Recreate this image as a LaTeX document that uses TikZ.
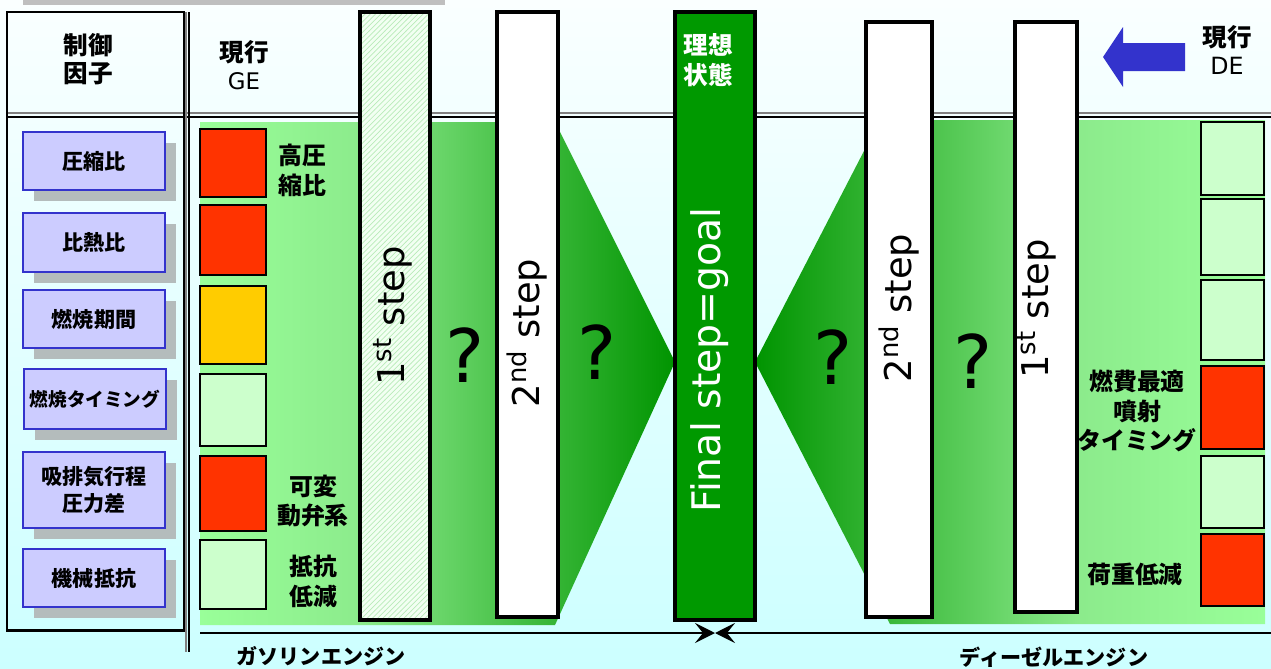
\documentclass[tikz,border=0pt]{standalone}
\usepackage{fontspec}
\setmainfont{DejaVu Sans}
\newfontfamily\jpfont{Noto Sans CJK JP}
\usetikzlibrary{arrows.meta, patterns, shadows}
\definecolor{bgtop}{RGB}{250,255,255}
\definecolor{bgbottom}{RGB}{204,255,255}
\definecolor{hot}{HTML}{FF3300}
\definecolor{warm}{HTML}{FFCC00}
\definecolor{pale}{HTML}{CCFFCC}
\definecolor{lilac}{HTML}{CCCCFF}
\definecolor{lilacedge}{HTML}{3333CC}
\definecolor{shadowgray}{RGB}{180,188,188}
\definecolor{goal}{HTML}{009900}
\definecolor{glight}{RGB}{153,255,153}
\definecolor{gmid}{RGB}{140,235,140}
\definecolor{gdark}{RGB}{0,148,0}
\definecolor{hatch}{RGB}{185,235,185}
\definecolor{hatchbg}{RGB}{242,255,242}
\definecolor{arrowblue}{HTML}{3333CC}
\definecolor{topgray}{HTML}{BFBFBF}
\pgfdeclarehorizontalshading{gasfade}{100bp}{color(0bp)=(glight); color(25bp)=(glight); color(41.8bp)=(gmid); color(75bp)=(gdark); color(100bp)=(gdark)}
\pgfdeclarehorizontalshading{dslfade}{100bp}{color(0bp)=(gdark); color(25bp)=(gdark); color(56.9bp)=(gmid); color(75bp)=(glight); color(100bp)=(glight)}

\begin{document}
\begin{tikzpicture}[
    x=0.2mm, y=-0.2mm,
    jp/.style={font=\jpfont\bfseries\fontsize{13.6}{17}\selectfont, align=center, inner sep=0pt},
    factor/.style={draw=lilacedge, fill=lilac, line width=0.7pt, minimum width=28.4mm, inner sep=0pt, align=center,
        font=\jpfont\bfseries\fontsize{12}{15}\selectfont,
        drop shadow={shadow xshift=2.2mm, shadow yshift=-2.2mm, fill=shadowgray, opacity=1}},
    cell/.style={draw, line width=0.6pt, inner sep=0pt},
    stepbar/.style={draw, line width=2.3pt, inner sep=0pt},
    steptext/.style={rotate=90, font=\fontsize{21}{25}\selectfont, inner sep=0pt},
    query/.style={font=\fontsize{42}{48}\selectfont, inner sep=0pt},
    meet/.style={-{Stealth[length=4mm, width=4mm, inset=1.6mm]}, line width=1.3pt}
]
\useasboundingbox (0,0) rectangle (1271,669);
\shade[top color=bgtop, bottom color=bgbottom] (0,0) rectangle (1271,669);
\fill[topgray] (23,0) rectangle (445,5);

\shade[shading=gasfade] (200,122) -- (555,122) -- (675,362) -- (555,625) -- (200,625) -- cycle;
\shade[shading=dslfade] (755,362) -- (880,120) -- (1265,120) -- (1265,624) -- (890,624) -- cycle;

\draw[gray, line width=0.6pt] (7,113) -- (1271,113);
\draw[line width=1.1pt] (7,117) -- (1271,117);

\node[draw, line width=1.7pt, minimum width=35.4mm, minimum height=123.6mm, inner sep=0pt] (panel) at (95.5,321) {};
\draw[gray, line width=0.6pt] (186,12) -- (186,652);
\draw[line width=1pt] (189,12) -- (189,652);

\node[jp, font=\jpfont\bfseries\fontsize{14}{16}\selectfont] (factorhead) at (88,59) {制御\\因子};
\node[jp, font=\jpfont\bfseries\fontsize{14}{16}\selectfont] (gehead) at (244,65) {現行\\{\normalfont\fontsize{13}{16}\selectfont GE}};
\node[jp, font=\jpfont\bfseries\fontsize{14}{16}\selectfont] (dehead) at (1227,50) {現行\\{\normalfont\fontsize{13.5}{16}\selectfont DE}};
\fill[arrowblue] (1103,57) -- (1123,27) -- (1123,43) -- (1185,43) -- (1185,71) -- (1123,71) -- (1123,87) -- cycle;

\node[factor, minimum height=11.6mm] (f1) at (94,161) {圧縮比};
\node[factor, minimum height=11.8mm] (f2) at (94,242.5) {比熱比};
\node[factor, minimum height=11.6mm] (f3) at (94,319) {燃焼期間};
\node[factor, minimum height=12mm, font=\jpfont\bfseries\fontsize{10.6}{13}\selectfont] (f4) at (95,399) {燃焼タイミング};
\node[factor, minimum height=15.2mm] (f5) at (94,490) {吸排気行程\\圧力差};
\node[factor, minimum height=11.6mm] (f6) at (94,578) {機械抵抗};

\node[cell, fill=hot, minimum width=13.2mm, minimum height=13.6mm] (ge1) at (233,163) {};
\node[cell, fill=hot, minimum width=13.2mm, minimum height=14mm] (ge2) at (233,240) {};
\node[cell, fill=warm, minimum width=13.2mm, minimum height=15.6mm] (ge3) at (233,325) {};
\node[cell, fill=pale, minimum width=13.2mm, minimum height=14.4mm] (ge4) at (233,410) {};
\node[cell, fill=hot, minimum width=13.2mm, minimum height=15mm] (ge5) at (233,493.5) {};
\node[cell, fill=pale, minimum width=13.2mm, minimum height=13.8mm] (ge6) at (233,574.5) {};

\node[jp] (ge1txt) at (302,170) {高圧\\縮比};
\node[jp] (ge5txt) at (313,501) {可変\\動弁系};
\node[jp] (ge6txt) at (313,581) {抵抗\\低減};

\node[cell, fill=pale, minimum width=12.6mm, minimum height=14.6mm] (de1) at (1232.5,158.5) {};
\node[cell, fill=pale, minimum width=12.6mm, minimum height=15.2mm] (de2) at (1232.5,237) {};
\node[cell, fill=pale, minimum width=12.6mm, minimum height=16mm] (de3) at (1232.5,320) {};
\node[cell, fill=hot, minimum width=12.6mm, minimum height=16.6mm] (de4) at (1232.5,407.5) {};
\node[cell, fill=pale, minimum width=12.6mm, minimum height=14.4mm] (de5) at (1232.5,492) {};
\node[cell, fill=hot, minimum width=12.6mm, minimum height=14.4mm] (de6) at (1232.5,570) {};

\node[jp] (de4txt) at (1137,411) {燃費最適\\噴射\\タイミング};
\node[jp] (de6txt) at (1135,574) {荷重低減};

\node[stepbar, pattern=north east lines, pattern color=hatch, preaction={fill=hatchbg}, minimum width=14mm, minimum height=121.6mm] (gas1) at (395,316) {};
\node[stepbar, fill=white, minimum width=12.2mm, minimum height=121mm] (gas2) at (527.5,314.5) {};
\node[stepbar, fill=goal, line width=2.8pt, minimum width=16mm, minimum height=121.6mm] (final) at (715,316) {};
\node[stepbar, fill=white, minimum width=13.2mm, minimum height=119mm] (dsl2) at (899,319.5) {};
\node[stepbar, fill=white, minimum width=12.4mm, minimum height=118mm] (dsl1) at (1046,317) {};

\node[steptext] (gas1txt) at (393,316) {1\textsuperscript{st} step};
\node[steptext] (gas2txt) at (527,333) {2\textsuperscript{nd} step};
\node[steptext, text=white, font=\fontsize{22.4}{26}\selectfont] (finaltxt) at (710,360) {Final step=goal};
\node[steptext] (dsl2txt) at (899,308) {2\textsuperscript{nd} step};
\node[steptext] (dsl1txt) at (1037,309) {1\textsuperscript{st} step};
\node[jp, text=white, font=\jpfont\bfseries\fontsize{14}{17}\selectfont] (finalhead) at (708,60) {理想\\状態};

\node[query] (q1) at (465,355) {?};
\node[query] (q2) at (597,352) {?};
\node[query] (q3) at (833,357) {?};
\node[query] (q4) at (973,361) {?};

\coordinate (gasend) at (200,633);
\coordinate (dslend) at (1271,633);
\coordinate (goalmeet) at (final.south |- gasend);
\draw[meet] (gasend) -- (goalmeet);
\draw[meet] (dslend) -- (goalmeet);

\node[jp, font=\jpfont\bfseries\fontsize{12}{14}\selectfont] (gaslabel) at (321,656) {ガソリンエンジン};
\node[jp, font=\jpfont\bfseries\fontsize{12}{14}\selectfont] (dsllabel) at (1054,657) {ディーゼルエンジン};

\end{tikzpicture}
\end{document}
